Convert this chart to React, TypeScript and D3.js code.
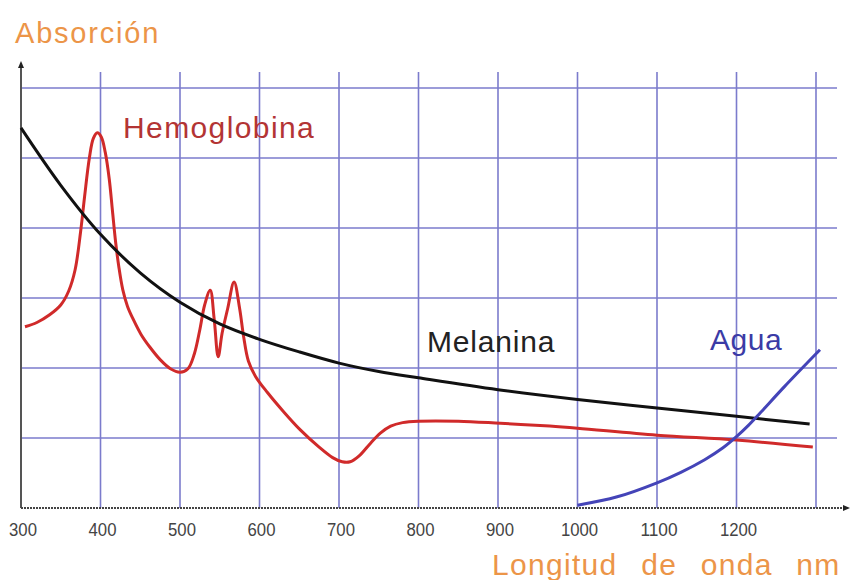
import React from "react";
import * as d3 from "d3";

const xTicks = [300, 400, 500, 600, 700, 800, 900, 1000, 1100, 1200];
const xGrid = [400, 500, 600, 700, 800, 900, 1000, 1100, 1200, 1300];
const yGrid = [1, 2, 3, 4, 5, 6];

const melaninaNm = [300, 350, 400, 450, 500, 550, 600, 650, 700, 750, 800, 900, 1000, 1100, 1200, 1292];
const melaninaVal = [5.43, 4.61, 3.91, 3.36, 2.94, 2.63, 2.41, 2.23, 2.07, 1.95, 1.86, 1.69, 1.55, 1.43, 1.31, 1.2];

const hemoNm = [305, 320, 336, 350, 360, 368, 375, 380, 386, 391, 396, 401, 406, 411, 415, 419, 423, 428, 434, 441, 451, 462, 475, 488, 500, 510, 518, 525, 531, 538, 543, 548, 553, 560, 568, 575, 580, 586, 595, 610, 630, 651, 675, 692, 704, 714, 725, 740, 752, 765, 780, 800, 850, 903, 965, 1000, 1100, 1200, 1296];
const hemoVal = [2.59, 2.65, 2.76, 2.9, 3.1, 3.4, 3.95, 4.45, 5.0, 5.28, 5.36, 5.3, 5.08, 4.7, 4.25, 3.8, 3.45, 3.12, 2.88, 2.7, 2.48, 2.3, 2.12, 1.99, 1.94, 1.99, 2.2, 2.55, 2.9, 3.11, 2.7, 2.16, 2.5, 2.85, 3.23, 2.85, 2.45, 2.1, 1.88, 1.65, 1.38, 1.12, 0.87, 0.72, 0.66, 0.66, 0.74, 0.93, 1.07, 1.17, 1.22, 1.24, 1.24, 1.21, 1.17, 1.14, 1.04, 0.97, 0.87];

const aguaNm = [1000, 1050, 1100, 1130, 1160, 1183, 1201, 1215, 1230, 1260, 1305];
const aguaVal = [0.04, 0.16, 0.36, 0.51, 0.69, 0.86, 1.03, 1.18, 1.36, 1.73, 2.26];

const labels = { y: "Absorción", x: "Longitud de onda nm", hemo: "Hemoglobina", mel: "Melanina", agua: "Agua" };

export default function App() {
  const x = d3.scaleLinear().domain([300, 1300]).range([21, 816]);
  const y = d3.scaleLinear().domain([0, 6]).range([508, 88]);
  const line = d3
    .line<[number, number]>()
    .x((d) => x(d[0]))
    .y((d) => y(d[1]))
    .curve(d3.curveCatmullRom.alpha(0.5));
  const mk = (a: number[], b: number[]) => a.map((v, i) => [v, b[i]] as [number, number]);
  const gridColor = "#7b7bcc";
  const font = "'Liberation Sans', Arial, sans-serif";
  const x0 = x(300);
  const yb = y(0);
  return (
    <svg width={850} height={580} style={{ position: "absolute", left: 0, top: 0, background: "#fff" }}>
      {yGrid.map((g) => (
        <line key={"h" + g} x1={x0} x2={837} y1={y(g)} y2={y(g)} stroke={gridColor} strokeWidth={1.6} />
      ))}
      {xGrid.map((g) => (
        <line key={"v" + g} x1={x(g)} x2={x(g)} y1={72} y2={yb} stroke={gridColor} strokeWidth={1.6} />
      ))}
      <line x1={x0} x2={x0} y1={64} y2={yb} stroke="#555" strokeWidth={2} />
      <path d={`M${x0 - 3},${68} L${x0},${61} L${x0 + 3},${68} Z`} fill="#222" />
      <line x1={x0} x2={845} y1={yb} y2={yb} stroke="#444" strokeWidth={2} strokeDasharray="2,1" />
      <path d={`M${843},${yb - 3} L${850},${yb} L${843},${yb + 3} Z`} fill="#222" />
      {xTicks.map((t) => {
        const s = String(t);
        return (
          <text
            key={"t" + t}
            x={x(t) + 2 - (s.length * 9.3) / 2}
            y={536}
            fontFamily={font}
            fontSize={18}
            fill="#444"
            textLength={s.length * 9.3}
            lengthAdjust="spacingAndGlyphs"
          >
            {s}
          </text>
        );
      })}
      <path d={line(mk(hemoNm, hemoVal)) || ""} fill="none" stroke="#d02a2a" strokeWidth={3} strokeLinejoin="round" />
      <path d={line(mk(melaninaNm, melaninaVal)) || ""} fill="none" stroke="#111" strokeWidth={3} strokeLinejoin="round" />
      <path d={line(mk(aguaNm, aguaVal)) || ""} fill="none" stroke="#4444b8" strokeWidth={3} strokeLinejoin="round" />
      <text x={15} y={43} fontFamily={font} fontSize={29} letterSpacing={1.8} fill="#ec9548">
        {labels.y}
      </text>
      <text x={492} y={575} fontFamily={font} fontSize={30} letterSpacing={1.3} wordSpacing={14} fill="#ec9548">
        {labels.x}
      </text>
      <text x={123} y={138} fontFamily={font} fontSize={30} letterSpacing={1.4} fill="#b33434">
        {labels.hemo}
      </text>
      <text x={427} y={352} fontFamily={font} fontSize={30} letterSpacing={0.8} fill="#222">
        {labels.mel}
      </text>
      <text x={710} y={350} fontFamily={font} fontSize={30} letterSpacing={0.5} fill="#3b3ba6">
        {labels.agua}
      </text>
    </svg>
  );
}
